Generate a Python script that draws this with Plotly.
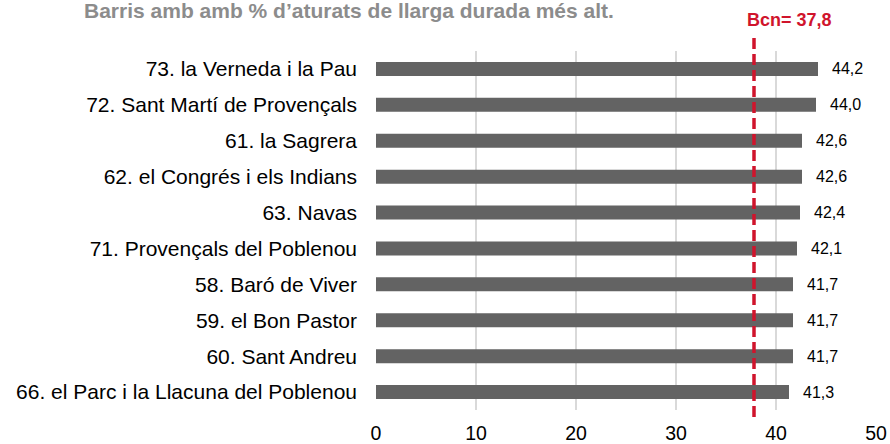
import plotly.graph_objects as go

categories = [
    "73. la Verneda i la Pau",
    "72. Sant Martí de Provençals",
    "61. la Sagrera",
    "62. el Congrés i els Indians",
    "63. Navas",
    "71. Provençals del Poblenou",
    "58. Baró de Viver",
    "59. el Bon Pastor",
    "60. Sant Andreu",
    "66. el Parc i la Llacuna del Poblenou",
]
values = [44.2, 44.0, 42.6, 42.6, 42.4, 42.1, 41.7, 41.7, 41.7, 41.3]
bcn_value = 37.8
bcn_label = "Bcn= 37,8"
title_text = "Barris amb amb % d’aturats de llarga durada més alt."
tick_vals = [0, 10, 20, 30, 40, 50]

FONT = "Liberation Sans, Arial, sans-serif"
BAR = "#636363"
RED = "#d0142c"

labels = [f"{v:.1f}".replace(".", ",") for v in values]

fig = go.Figure()
fig.add_trace(go.Bar(
    x=values, y=categories, orientation="h",
    marker=dict(color=BAR, line=dict(width=0)),
    width=0.39, hoverinfo="skip",
))
for c, v, t in zip(categories, values, labels):
    fig.add_annotation(x=v, y=c, xref="x", yref="y", text=t, showarrow=False,
                       xanchor="left", yanchor="middle", xshift=12,
                       font=dict(family=FONT, size=16, color="#000000"))

fig.add_shape(type="line", xref="x", yref="paper", x0=bcn_value, x1=bcn_value,
              y0=-0.0195, y1=1.036, line=dict(color=RED, width=3.5, dash="11px,5px"))
fig.add_annotation(x=bcn_value, xref="x", y=1.0, yref="paper", yanchor="middle",
                   text=f"<b>{bcn_label}</b>", showarrow=False, xshift=35, yshift=31,
                   font=dict(family=FONT, size=18, color=RED))

fig.add_annotation(x=0, xref="paper", y=1, yref="paper", text=f"<b>{title_text}</b>",
                   showarrow=False, xanchor="left", yanchor="middle", xshift=-294, yshift=41,
                   font=dict(family=FONT, size=21, color="#8c8c8c"))

fig.update_layout(
    width=890, height=444,
    margin=dict(l=376, r=14, t=51, b=34),
    plot_bgcolor="white", paper_bgcolor="white",
    showlegend=False,
    xaxis=dict(range=[0, 50], tickvals=tick_vals, showgrid=True, gridcolor="#d9d9d9",
               gridwidth=2, zeroline=False, showline=False, automargin=False,
               tickfont=dict(family=FONT, size=19.5, color="#000000"), ticklabelstandoff=9),
    yaxis=dict(categoryorder="array", categoryarray=categories[::-1], autorange=False,
               range=[-0.5, 9.5], showgrid=False, zeroline=False, automargin=False,
               tickfont=dict(family=FONT, size=21, color="#000000"), ticklabelstandoff=18),
)
fig.write_html("out.html", config={"displayModeBar": False},
               post_script="document.body.style.margin='0';document.body.style.overflow='hidden';")
